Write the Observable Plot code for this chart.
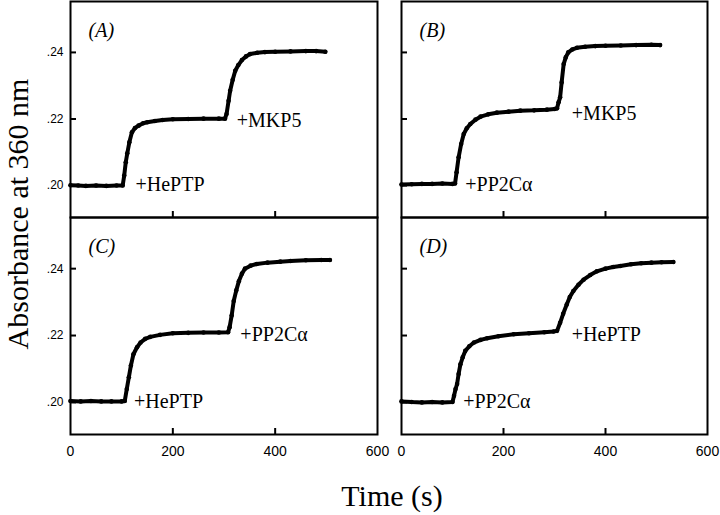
<!DOCTYPE html>
<html>
<head>
<meta charset="utf-8">
<script src="https://cdn.jsdelivr.net/npm/d3@7"></script>
<script src="https://cdn.jsdelivr.net/npm/@observablehq/plot@0.6"></script>
<style>
  body { margin: 0; background: white; }
  #wrap { position: relative; width: 720px; height: 515px; background: white; overflow: hidden; }
  #wrap svg { position: absolute; }
</style>
</head>
<body>
<div id="wrap"></div>
<script>
// ---- data ----
const panelLetters = ["(A)", "(B)", "(C)", "(D)"];
const firstAdd = ["+HePTP", "+PP2C\u03b1", "+HePTP", "+PP2C\u03b1"];
const secondAdd = ["+MKP5", "+MKP5", "+PP2C\u03b1", "+HePTP"];

const xTicks = [0, 200, 400, 600];
const yTicks = [0.20, 0.22, 0.24];

const tA = [0,15,30,50,70,90,102,105,108,111,115,120,126,133,142,150,165,180,200,230,260,290,302,305,309,312,317,322,328,335,343,351,365,380,400,430,460,480,498];
const vA = [.2001,.2000,.1999,.2000,.1999,.2000,.2000,.2030,.2070,.2097,.2130,.2160,.2173,.2180,.2187,.2190,.2194,.2197,.2199,.2200,.2201,.2201,.2201,.2215,.2255,.2285,.2318,.2345,.2362,.2377,.2388,.2395,.2399,.2401,.2402,.2403,.2404,.2404,.2402];

const tB = [0,20,40,60,80,100,105,108,112,117,122,128,135,145,155,170,187,210,233,260,285,300,305,308,311,314,318,322,327,335,344,360,380,400,430,460,490,507];
const vB = [.2003,.2004,.2005,.2005,.2006,.2005,.2006,.2040,.2085,.2125,.2155,.2172,.2185,.2198,.2207,.2214,.2219,.2222,.2225,.2226,.2228,.2230,.2232,.2250,.2265,.2310,.2365,.2385,.2400,.2409,.2414,.2417,.2419,.2420,.2421,.2422,.2423,.2422];

const tC = [0,20,40,60,80,100,106,110,114,118,123,130,137,146,156,175,200,230,260,290,308,311,315,319,324,329,335,341,352,364,385,410,430,460,490,507];
const vC = [.2004,.2003,.2004,.2003,.2003,.2003,.2004,.2040,.2075,.2110,.2144,.2165,.2179,.2190,.2196,.2202,.2207,.2208,.2209,.2209,.2210,.2225,.2260,.2303,.2335,.2362,.2385,.2400,.2409,.2414,.2418,.2421,.2423,.2425,.2426,.2426];

const tD = [0,20,40,60,80,100,103,106,109,112,115.5,120,125,133,142,155,168,190,220,250,280,298,305,311,317,324,330,337,347,357,370,383,400,415,429,450,470,490,510,533];
const vD = [.2003,.2001,.2000,.2001,.2000,.2001,.2020,.2040,.2055,.2085,.2114,.2135,.2154,.2168,.2179,.2187,.2192,.2198,.2204,.2207,.2210,.2212,.2214,.2238,.2265,.2293,.2315,.2333,.2352,.2367,.2381,.2392,.2400,.2405,.2408,.2413,.2416,.2418,.2419,.2420];

// annotation anchor positions (data coordinates)
const ann1 = [{t:127, v:0.2002}, {t:125, v:0.2002}, {t:124, v:0.2002}, {t:121, v:0.2001}];
const ann2 = [{t:325, v:0.2196}, {t:334, v:0.2215}, {t:332, v:0.2204}, {t:334, v:0.2204}];

const series = [[tA, vA], [tB, vB], [tC, vC], [tD, vD]];

// ---- layout ----
const layouts = [
  {left: 0,   top: 0,   width: 380, height: 220, ml: 70, mr: 3,  mt: 1,  mb: 3,  showX: false, showY: true},
  {left: 380, top: 0,   width: 340, height: 220, ml: 21, mr: 13, mt: 1,  mb: 3,  showX: false, showY: false},
  {left: 0,   top: 200, width: 380, height: 270, ml: 70, mr: 3,  mt: 17, mb: 36, showX: true,  showY: true},
  {left: 380, top: 200, width: 340, height: 270, ml: 21, mr: 13, mt: 17, mb: 36, showX: true,  showY: false}
];

const wrap = document.getElementById("wrap");
const serif = "'Liberation Serif', 'Times New Roman', Times, serif";
const sans = "'Liberation Sans', Arial, Helvetica, sans-serif";

layouts.forEach((L, i) => {
  const [ts, vs] = series[i];
  const data = ts.map((t, k) => ({t, v: vs[k]}));
  const innerW = L.width - L.ml - L.mr;
  const innerH = L.height - L.mt - L.mb;
  const marks = [
    Plot.ruleY(yTicks, {y: d => d, insetRight: innerW - 6, strokeWidth: 2}),
    Plot.ruleX(xTicks.slice(1, -1), {x: d => d, insetTop: innerH - 6, strokeWidth: 2}),
    Plot.line(data, {x: "t", y: "v", stroke: "black", strokeWidth: 4, strokeLinejoin: "round", strokeLinecap: "round"}),
    Plot.dot(data, {x: "t", y: "v", r: 2.3, fill: "black", stroke: "none"}),
    Plot.text([firstAdd[i]], {x: () => ann1[i].t, y: () => ann1[i].v, text: d => d, textAnchor: "start", fontFamily: serif, fontSize: 20, fill: "black"}),
    Plot.text([secondAdd[i]], {x: () => ann2[i].t, y: () => ann2[i].v, text: d => d, textAnchor: "start", fontFamily: serif, fontSize: 20, fill: "black"}),
    Plot.text([panelLetters[i]], {frameAnchor: "top-left", dx: 18, dy: 21, text: d => d, textAnchor: "start", fontFamily: serif, fontStyle: "italic", fontSize: 20, fill: "black"}),
    Plot.frame({stroke: "black", strokeWidth: 2})
  ];
  if (L.showY) marks.push(Plot.axisY(yTicks, {tickSize: 0, tickPadding: 7, tickFormat: d => d3.format(".2f")(d).slice(1), fontSize: 12, fontFamily: sans, label: null}));
  if (L.showX) marks.push(Plot.axisX(xTicks, {tickSize: 0, tickPadding: 12, tickFormat: d => String(d), fontSize: 14, fontFamily: sans, label: null}));
  const chart = Plot.plot({
    width: L.width,
    height: L.height,
    marginLeft: L.ml, marginRight: L.mr, marginTop: L.mt, marginBottom: L.mb,
    x: {domain: [0, 600], axis: null},
    y: {domain: [0.1904, 0.2553], axis: null},
    style: {background: "none", maxWidth: "none", overflow: "visible", fontFamily: sans},
    marks
  });
  chart.style.left = L.left + "px";
  chart.style.top = L.top + "px";
  wrap.appendChild(chart);
});

// axis titles
const titles = d3.select(wrap).append("svg")
  .attr("width", 720).attr("height", 515)
  .style("left", "0px").style("top", "0px").style("pointer-events", "none");
titles.append("text")
  .attr("transform", "translate(28,214) rotate(-90)")
  .attr("text-anchor", "middle")
  .style("font-family", serif).style("font-size", "30px")
  .text("Absorbance at 360 nm");
titles.append("text")
  .attr("x", 392).attr("y", 506)
  .attr("text-anchor", "middle")
  .style("font-family", serif).style("font-size", "30px")
  .text("Time (s)");
</script>
</body>
</html>
